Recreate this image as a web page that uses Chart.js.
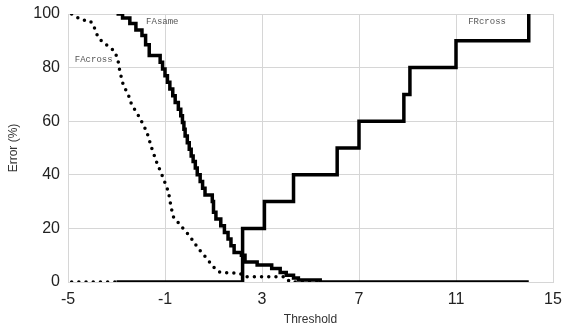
<!DOCTYPE html>
<html>
<head>
<meta charset="utf-8">
<script src="https://cdn.jsdelivr.net/npm/chart.js@4/dist/chart.umd.min.js"></script>
<style>
  html, body { margin: 0; padding: 0; background: #fff; }
</style>
</head>
<body>
<canvas id="errChart" width="564" height="328"></canvas>
<script>
// axis ticks
const xTicks = [-5, -1, 3, 7, 11, 15];
const yTicks = [0, 20, 40, 60, 80, 100];

// FAcross (dotted)
const faCrossX = [-4.85, -4.44, -4.09, -3.96, -3.75, -3.40, -3.06, -2.93, -2.86, -2.72, -2.51, -2.37, -2.15, -1.96, -1.75, -1.55, -1.34, -1.07, -0.86, -0.75, -0.66, -0.31, 0.03, 0.37, 0.72, 0.99, 1.27, 2.09, 2.26, 3.95, 4.15, 5.3];
const faCrossY = [100, 97.8, 97.5, 96, 91, 88.4, 86, 82.2, 78.5, 73.5, 69.8, 66, 63, 59.8, 56, 50, 44.6, 38.7, 33.7, 28, 24.4, 20.6, 17, 12.5, 8.8, 5.7, 3.6, 3.2, 2, 2, 0, 0];

// left zero segment of the dotted curves
const frSameX = [-4.85, -3.0];
const frSameY = [0, 0];

// FAsame (solid, step)
const faSameX = [-3.0, -2.75, -2.45, -2.2, -1.95, -1.8, -1.65, -1.2, -1.1, -1.0, -0.9, -0.8, -0.68, -0.58, -0.45, -0.35, -0.28, -0.22, -0.17, -0.08, 0.0, 0.08, 0.16, 0.25, 0.33, 0.45, 0.55, 0.65, 0.95, 1.0, 1.1, 1.3, 1.45, 1.6, 1.72, 1.85, 2.15, 2.3, 2.8, 3.4, 3.75, 4.0, 4.3, 4.5, 5.4, 14.0];
const faSameY = [100, 98.5, 96.5, 94, 92, 88.5, 84.5, 82, 79.5, 77, 74.5, 72, 69.5, 67, 64.5, 62, 59.5, 57, 54.5, 52, 49.5, 47, 45, 42.5, 40, 37.5, 35, 32.5, 30, 26, 23.5, 21, 18.5, 16, 13.5, 11, 10, 7.5, 6.3, 5, 3.5, 2.5, 1.5, 0.7, 0, 0];

// FRcross (solid, step)
const frCrossX = [-3.0, 2.2, 3.1, 4.3, 6.1, 7.0, 8.85, 9.1, 11.0, 14.0];
const frCrossY = [0, 20, 30, 40, 50, 60, 70, 80, 90, 100];

const curveNames = ["FAcross", "FAsame", "FRcross"];
const labelAnchorX = [-4.72, -1.78, 11.5];
const labelAnchorY = [83, 97, 97];

const pts = (xs, ys) => xs.map((x, i) => ({ x: x, y: ys[i] }));

const curveLabels = {
  id: "curveLabels",
  afterDatasetsDraw(chart) {
    const ctx = chart.ctx;
    const xs = chart.scales.x, ys = chart.scales.y;
    ctx.save();
    ctx.font = "9px 'Liberation Mono'";
    ctx.fillStyle = "#555";
    ctx.textAlign = "left";
    ctx.textBaseline = "middle";
    curveNames.forEach((name, i) => {
      ctx.fillText(name, xs.getPixelForValue(labelAnchorX[i]), ys.getPixelForValue(labelAnchorY[i]));
    });
    ctx.restore();
  }
};

const dotted = { borderColor: "#000", borderWidth: 3.5, borderDash: [0, 7.2], borderCapStyle: "round", pointRadius: 0, fill: false, tension: 0 };
const solid = { borderColor: "#000", borderWidth: 3.5, pointRadius: 0, fill: false, stepped: "before", borderJoinStyle: "miter" };

new Chart(document.getElementById("errChart"), {
  type: "line",
  data: {
    datasets: [
      Object.assign({ label: "FRsame", data: pts(frSameX, frSameY) }, dotted),
      Object.assign({ label: "FAcross", data: pts(faCrossX, faCrossY) }, dotted),
      Object.assign({ label: "FAsame", data: pts(faSameX, faSameY) }, solid),
      Object.assign({ label: "FRcross", data: pts(frCrossX, frCrossY) }, solid),
    ],
  },
  options: {
    responsive: false,
    animation: false,
    layout: { padding: { top: 14, right: 11, left: 0, bottom: 0 } },
    plugins: { legend: { display: false }, tooltip: { enabled: false } },
    scales: {
      x: {
        type: "linear",
        min: -5,
        max: 15,
        afterBuildTicks: (s) => { s.ticks = xTicks.map((v) => ({ value: v })); },
        afterFit: (s) => { s.height = 46; s.paddingLeft = 0; s.paddingRight = 0; },
        grid: { color: "#d6d6d6", drawTicks: false },
        border: { color: "#d6d6d6" },
        ticks: { padding: 8, color: "#222", font: { family: "'Liberation Sans'", size: 16 } },
        title: { display: true, text: "Threshold", color: "#333", font: { family: "'Liberation Sans'", size: 12 }, padding: { top: 0, bottom: 1 } },
      },
      y: {
        min: 0,
        max: 100,
        afterBuildTicks: (s) => { s.ticks = yTicks.map((v) => ({ value: v })); },
        afterFit: (s) => { s.width = 68; s.paddingTop = 0; s.paddingBottom = 0; },
        grid: { color: "#d6d6d6", drawTicks: false },
        border: { color: "#d6d6d6" },
        ticks: { padding: 8, color: "#222", font: { family: "'Liberation Sans'", size: 16 } },
        title: { display: true, text: "Error (%)", color: "#333", font: { family: "'Liberation Sans'", size: 12 }, padding: { top: 6, bottom: 0 } },
      },
    },
  },
  plugins: [curveLabels],
});
</script>
</body>
</html>
